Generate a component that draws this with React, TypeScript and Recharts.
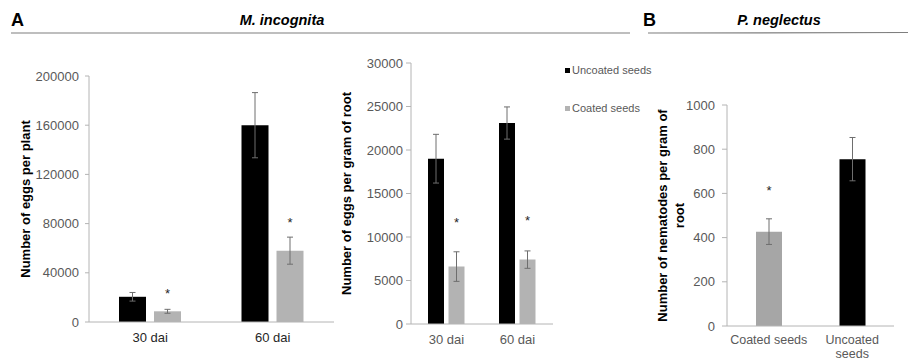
import React from "react";
import { BarChart, Bar, XAxis, YAxis, ErrorBar, Cell, Legend, Text } from "recharts";

const FONT = '"Liberation Sans", Arial, Helvetica, sans-serif';
const AXIS_GREY = "#b4b4b4";
const TICK_GREY = "#595959";
const ERR_GREY = "#6e6e6e";
const BAR_BLACK = "#000000";
const BAR_GREY = "#b3b3b3";
const BAR_GREY_B = "#a6a6a6";

// A - M. incognita: eggs per plant
const daiCategories = ["30 dai", "60 dai"];
const plantUncoated = [20500, 160000];
const plantUncoatedErr = [3500, 26500];
const plantCoated = [8700, 58000];
const plantCoatedErr = [1600, 11000];
const plantStars = [25500, 83000];
const plantTicks = [0, 40000, 80000, 120000, 160000, 200000];

// A - M. incognita: eggs per gram of root
const rootUncoated = [19000, 23100];
const rootUncoatedErr = [2800, 1850];
const rootCoated = [6600, 7400];
const rootCoatedErr = [1700, 1000];
const rootStars = [11900, 12200];
const rootTicks = [0, 5000, 10000, 15000, 20000, 25000, 30000];

// B - P. neglectus
const seedCategories = ["Coated seeds", "Uncoated seeds"];
const nematodes = [427, 755];
const nematodesErr = [58, 98];
const nematodeStars: (number | null)[] = [625, null];
const nematodeColors = [BAR_GREY_B, BAR_BLACK];
const nematodeTicks = [0, 200, 400, 600, 800, 1000];

const legendLabels = ["Uncoated seeds", "Coated seeds"];
const legendColors = [BAR_BLACK, BAR_GREY];

const plantData = daiCategories.map((c, i) => ({
  cat: c,
  uncoated: plantUncoated[i],
  uncoatedErr: plantUncoatedErr[i],
  coated: plantCoated[i],
  coatedErr: plantCoatedErr[i],
}));

const rootData = daiCategories.map((c, i) => ({
  cat: c,
  uncoated: rootUncoated[i],
  uncoatedErr: rootUncoatedErr[i],
  coated: rootCoated[i],
  coatedErr: rootCoatedErr[i],
}));

const nemaData = seedCategories.map((c, i) => ({
  cat: c,
  value: nematodes[i],
  err: nematodesErr[i],
}));

// asterisk above a bar, placed at a value on the bar's own scale
function starLabel(values: number[], stars: (number | null)[]) {
  return (props: any) => {
    const vb = props.viewBox || {};
    const x = vb.x ?? props.x;
    const y = vb.y ?? props.y;
    const w = vb.width ?? props.width;
    const h = vb.height ?? props.height;
    const i = props.index;
    const s = stars[i];
    if (s == null || !values[i] || !h) return null;
    const ppu = h / values[i];
    const cy = y + h - s * ppu;
    return (
      <text
        key={`star-${i}`}
        x={x + w / 2}
        y={cy + 7}
        textAnchor="middle"
        fontSize={13}
        fontFamily={FONT}
        fill="#262626"
      >
        *
      </text>
    );
  };
}

// rotated bold y-axis title, lines stacked left to right
function yTitle(lines: string[], cx: number) {
  return (props: any) => {
    const vb = props.viewBox || { y: 0, height: 0 };
    const cy = vb.y + vb.height / 2;
    const step = 17.5;
    return (
      <g>
        {lines.map((l, i) => {
          const d = (i - (lines.length - 1) / 2) * step;
          return (
            <text
              key={l}
              x={cx}
              y={cy + d}
              transform={`rotate(-90 ${cx} ${cy})`}
              textAnchor="middle"
              dominantBaseline="central"
              fontWeight="bold"
              fontSize={13}
              fontFamily={FONT}
              fill="#000"
            >
              {l}
            </text>
          );
        })}
      </g>
    );
  };
}

const SeedTick = (props: any) => {
  const { x, y, payload } = props;
  return (
    <Text
      x={x}
      y={y}
      width={84}
      textAnchor="middle"
      verticalAnchor="start"
      fontSize={12.5}
      fontFamily={FONT}
      fill={TICK_GREY}
      lineHeight={14.5}
    >
      {payload.value}
    </Text>
  );
};

const renderLegend = () => (
  <div style={{ fontFamily: FONT, fontSize: 11, color: TICK_GREY }}>
    {legendLabels.map((l, i) => (
      <div
        key={l}
        style={{ height: 14, marginBottom: 24, display: "flex", alignItems: "center" }}
      >
        <span
          style={{
            display: "inline-block",
            width: 5,
            height: 5,
            background: legendColors[i],
            marginRight: 2,
          }}
        />
        <span>{l}</span>
      </div>
    ))}
  </div>
);

const yTick = { fill: TICK_GREY, fontSize: 13, fontFamily: FONT };

export default function App() {
  return (
    <div
      style={{
        position: "absolute",
        left: 0,
        top: 0,
        width: 909,
        height: 362,
        background: "#fff",
        fontFamily: FONT,
      }}
    >
      {/* panel headers */}
      <svg width={909} height={40} style={{ position: "absolute", left: 0, top: 0 }}>
        <text x={11} y={26} fontSize={18} fontWeight="bold" fontFamily={FONT} fill="#000">
          A
        </text>
        <text
          x={282}
          y={24.5}
          textAnchor="middle"
          fontSize={14.5}
          fontWeight="bold"
          fontStyle="italic"
          fontFamily={FONT}
          fill="#000"
        >
          M. incognita
        </text>
        <line x1={11} y1={33} x2={630} y2={33} stroke="#7f7f7f" strokeWidth={1.2} />
        <text x={643} y={26} fontSize={18} fontWeight="bold" fontFamily={FONT} fill="#000">
          B
        </text>
        <text
          x={779}
          y={24.5}
          textAnchor="middle"
          fontSize={14.5}
          fontWeight="bold"
          fontStyle="italic"
          fontFamily={FONT}
          fill="#000"
        >
          P. neglectus
        </text>
        <line x1={648} y1={33} x2={908} y2={32.5} stroke="#7f7f7f" strokeWidth={1.2} />
      </svg>

      {/* A, eggs per plant */}
      <div style={{ position: "absolute", left: 0, top: 0 }}>
        <BarChart
          width={340}
          height={362}
          data={plantData}
          margin={{ top: 76, right: 6, bottom: 10, left: 0 }}
          barGap={8}
        >
          <XAxis
            dataKey="cat"
            height={30}
            tickLine={false}
            tickSize={0}
            tickMargin={11}
            stroke={AXIS_GREY}
            tick={{ fill: "#262626", fontSize: 13, fontFamily: FONT }}
          />
          <YAxis
            width={89}
            domain={[0, 200000]}
            ticks={plantTicks}
            interval={0}
            tickSize={4}
            tickMargin={6}
            stroke={AXIS_GREY}
            tick={yTick}
            label={yTitle(["Number of eggs per plant"], 25)}
          />
          <Bar dataKey="uncoated" fill={BAR_BLACK} barSize={27} isAnimationActive={false}>
            <ErrorBar dataKey="uncoatedErr" width={3} stroke={ERR_GREY} strokeWidth={1} />
          </Bar>
          <Bar
            dataKey="coated"
            fill={BAR_GREY}
            barSize={27}
            isAnimationActive={false}
            label={starLabel(plantCoated, plantStars)}
          >
            <ErrorBar dataKey="coatedErr" width={3} stroke={ERR_GREY} strokeWidth={1} />
          </Bar>
        </BarChart>
      </div>

      {/* A, eggs per gram of root */}
      <div style={{ position: "absolute", left: 330, top: 0 }}>
        <BarChart
          width={340}
          height={362}
          data={rootData}
          margin={{ top: 63, right: 117, bottom: 8, left: 0 }}
          barGap={4.5}
        >
          <XAxis
            dataKey="cat"
            height={30}
            tickLine={false}
            tickSize={0}
            tickMargin={11}
            stroke={AXIS_GREY}
            tick={{ fill: TICK_GREY, fontSize: 13, fontFamily: FONT }}
          />
          <YAxis
            width={81}
            domain={[0, 30000]}
            ticks={rootTicks}
            interval={0}
            tickSize={5}
            tickMargin={3}
            stroke={AXIS_GREY}
            tick={yTick}
            label={yTitle(["Number of eggs per gram of root"], 16)}
          />
          <Legend
            layout="vertical"
            align="center"
            verticalAlign="middle"
            content={renderLegend}
            wrapperStyle={{ position: "absolute", left: 235, top: 63, width: 110, height: "auto" }}
          />
          <Bar
            dataKey="uncoated"
            name={legendLabels[0]}
            fill={BAR_BLACK}
            barSize={16}
            isAnimationActive={false}
          >
            <ErrorBar dataKey="uncoatedErr" width={3} stroke={ERR_GREY} strokeWidth={1} />
          </Bar>
          <Bar
            dataKey="coated"
            name={legendLabels[1]}
            fill={BAR_GREY}
            barSize={16}
            isAnimationActive={false}
            label={starLabel(rootCoated, rootStars)}
          >
            <ErrorBar dataKey="coatedErr" width={3} stroke={ERR_GREY} strokeWidth={1} />
          </Bar>
        </BarChart>
      </div>

      {/* B, nematodes per gram of root */}
      <div style={{ position: "absolute", left: 640, top: 0 }}>
        <BarChart
          width={269}
          height={362}
          data={nemaData}
          margin={{ top: 105, right: 15, bottom: 0, left: 0 }}
        >
          <XAxis
            dataKey="cat"
            height={36}
            tickLine={false}
            tickSize={0}
            tickMargin={9}
            stroke={AXIS_GREY}
            interval={0}
            tick={<SeedTick />}
          />
          <YAxis
            width={87}
            domain={[0, 1000]}
            ticks={nematodeTicks}
            interval={0}
            tickSize={5}
            tickMargin={7}
            stroke={AXIS_GREY}
            tick={yTick}
            label={yTitle(["Number of nematodes per gram of", "root"], 31)}
          />
          <Bar
            dataKey="value"
            barSize={26}
            isAnimationActive={false}
            label={starLabel(nematodes, nematodeStars)}
          >
            {nemaData.map((d, i) => (
              <Cell key={d.cat} fill={nematodeColors[i]} />
            ))}
            <ErrorBar dataKey="err" width={3} stroke={ERR_GREY} strokeWidth={1} />
          </Bar>
        </BarChart>
      </div>
    </div>
  );
}
